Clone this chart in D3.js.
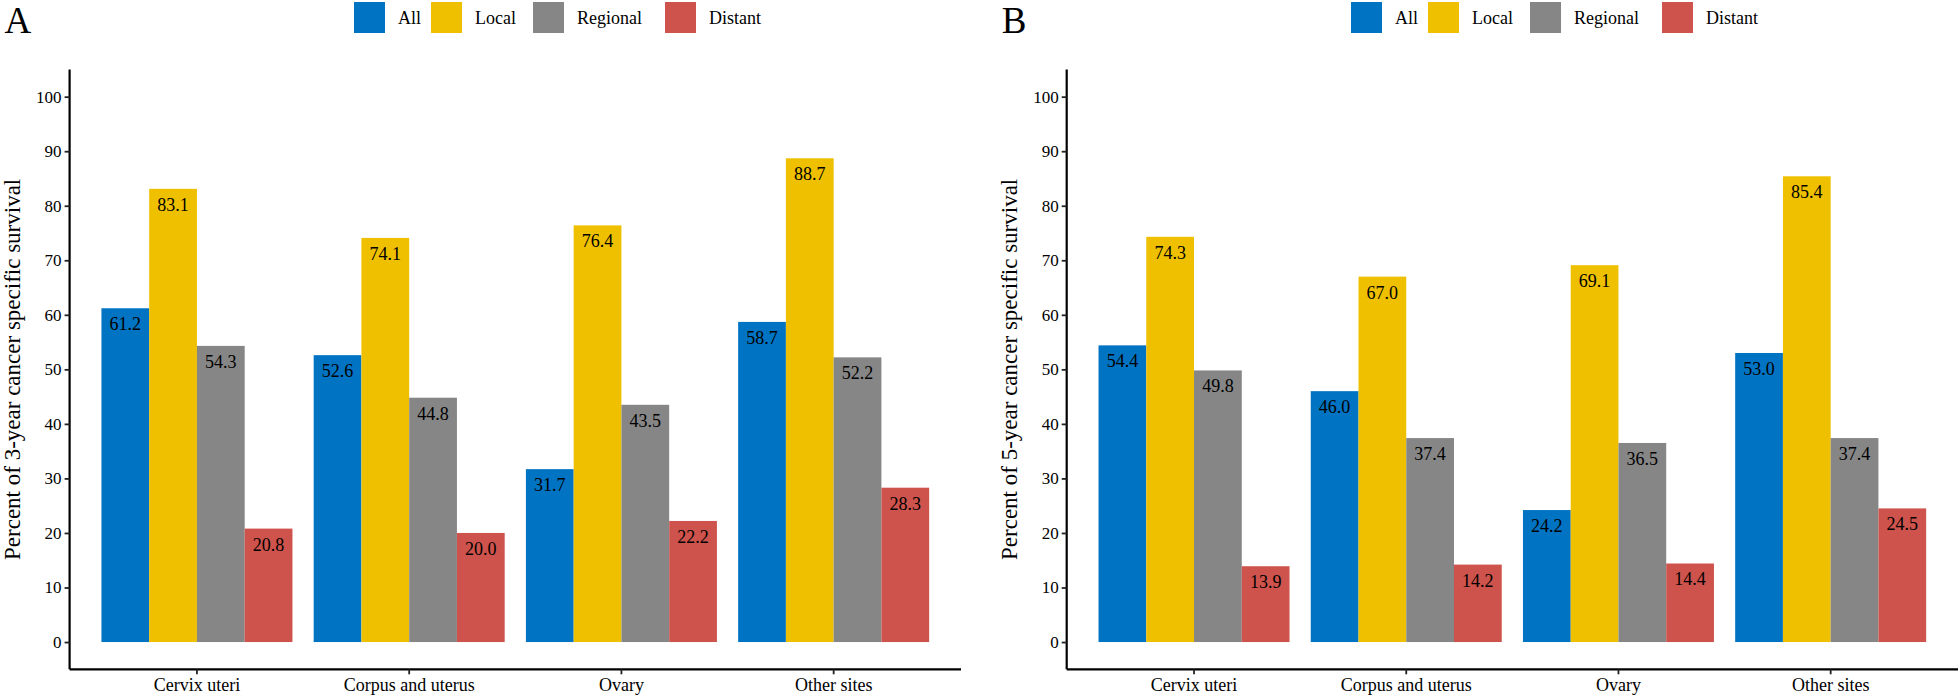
<!DOCTYPE html>
<html>
<head>
<meta charset="utf-8">
<script src="https://cdn.jsdelivr.net/npm/d3@7"></script>
<style>
  html, body { margin: 0; padding: 0; background: #fff; }
  svg { display: block; }
  text { font-family: "Liberation Serif", "Times New Roman", serif; fill: #000; }
</style>
</head>
<body>
<svg id="chart" width="1960" height="700"></svg>
<script>
// ---- data ----
const categories = ["Cervix uteri", "Corpus and uterus", "Ovary", "Other sites"];
const series = ["All", "Local", "Regional", "Distant"];
const colors = ["#0073C2", "#EFC000", "#868686", "#CD534C"];
const yTicks = [0, 10, 20, 30, 40, 50, 60, 70, 80, 90, 100];

// Panel A: 3-year cancer specific survival
const surv3All      = [61.2, 52.6, 31.7, 58.7];
const surv3Local    = [83.1, 74.1, 76.4, 88.7];
const surv3Regional = [54.3, 44.8, 43.5, 52.2];
const surv3Distant  = [20.8, 20.0, 22.2, 28.3];

// Panel B: 5-year cancer specific survival
const surv5All      = [54.4, 46.0, 24.2, 53.0];
const surv5Local    = [74.3, 67.0, 69.1, 85.4];
const surv5Regional = [49.8, 37.4, 36.5, 37.4];
const surv5Distant  = [13.9, 14.2, 14.4, 24.5];

const panels = [
  { tag: "A", ylabel: "Percent of 3-year cancer specific survival",
    values: [surv3All, surv3Local, surv3Regional, surv3Distant],
    x0: 69.6, x1: 961, legendX: 354 },
  { tag: "B", ylabel: "Percent of 5-year cancer specific survival",
    values: [surv5All, surv5Local, surv5Regional, surv5Distant],
    x0: 1066.7, x1: 1958, legendX: 1351 }
];

const FONT = "Liberation Serif, Times New Roman, serif";
const svg = d3.select("#chart");
const y = d3.scaleLinear().domain([-5, 105]).range([669.3, 69.4]);
const color = d3.scaleOrdinal().domain(series).range(colors);

panels.forEach(p => {
  const g = svg.append("g");
  const x = d3.scaleBand().domain(categories).range([p.x0, p.x1])
    .paddingInner(0).paddingOuter(0.1);
  const xs = d3.scaleBand().domain(series).range([0, x.bandwidth() * 0.9]).padding(0);

  const data = [];
  categories.forEach((c, ci) => {
    series.forEach((s, si) => {
      data.push({ cat: c, ser: s, v: p.values[si][ci] });
    });
  });
  const off = x.bandwidth() * 0.05;
  g.selectAll("rect.bar").data(data).enter().append("rect")
    .attr("class", "bar")
    .attr("x", d => x(d.cat) + off + xs(d.ser))
    .attr("width", xs.bandwidth())
    .attr("y", d => y(d.v))
    .attr("height", d => y(0) - y(d.v))
    .attr("fill", d => color(d.ser));

  g.selectAll("text.val").data(data).enter().append("text")
    .attr("class", "val")
    .attr("x", d => x(d.cat) + off + xs(d.ser) + xs.bandwidth() / 2)
    .attr("y", d => y(d.v) + 22)
    .attr("text-anchor", "middle")
    .attr("font-family", FONT)
    .attr("font-size", 18)
    .text(d => d.v.toFixed(1));

  // y axis
  const yAxis = d3.axisLeft(y).tickValues(yTicks).tickSize(5).tickPadding(3);
  const ya = g.append("g").attr("transform", `translate(${p.x0},0)`).call(yAxis)
    .attr("font-family", FONT).attr("font-size", 17);
  ya.select(".domain").attr("d", `M0,${y(-5)}V${y(105)}`).attr("stroke", "#000").attr("stroke-width", 2.2);
  ya.selectAll(".tick line").attr("stroke", "#222").attr("stroke-width", 1.8);
  ya.selectAll(".tick text").attr("fill", "#222");

  // x axis
  const xAxis = d3.axisBottom(x).tickSize(5).tickPadding(4);
  const xa = g.append("g").attr("transform", `translate(0,${y(-5)})`).call(xAxis)
    .attr("font-family", FONT).attr("font-size", 18);
  xa.select(".domain").attr("d", `M${p.x0},0H${p.x1}`).attr("stroke", "#000").attr("stroke-width", 2.2);
  xa.selectAll(".tick line").attr("stroke", "#222").attr("stroke-width", 1.8);
  xa.selectAll(".tick text").attr("fill", "#222");

  // y label
  g.append("text")
    .attr("transform", `translate(${p.x0 - 50},${(y(-5) + y(105)) / 2}) rotate(-90)`)
    .attr("text-anchor", "middle")
    .attr("font-family", FONT)
    .attr("font-size", 23)
    .text(p.ylabel);

  // panel tag
  g.append("text")
    .attr("x", p.x0 - 65).attr("y", 33)
    .attr("font-family", FONT)
    .attr("font-size", 37)
    .text(p.tag);

  // legend
  const legOffsets = [0, 77, 179, 311];
  const lg = g.append("g").attr("transform", `translate(${p.legendX},0)`);
  series.forEach((s, i) => {
    lg.append("rect").attr("x", legOffsets[i]).attr("y", 2)
      .attr("width", 31).attr("height", 31).attr("fill", color(s));
    lg.append("text").attr("x", legOffsets[i] + 44).attr("y", 17.5)
      .attr("dy", "0.35em")
      .attr("font-family", FONT)
      .attr("font-size", 18).text(s);
  });
});
</script>
</body>
</html>
